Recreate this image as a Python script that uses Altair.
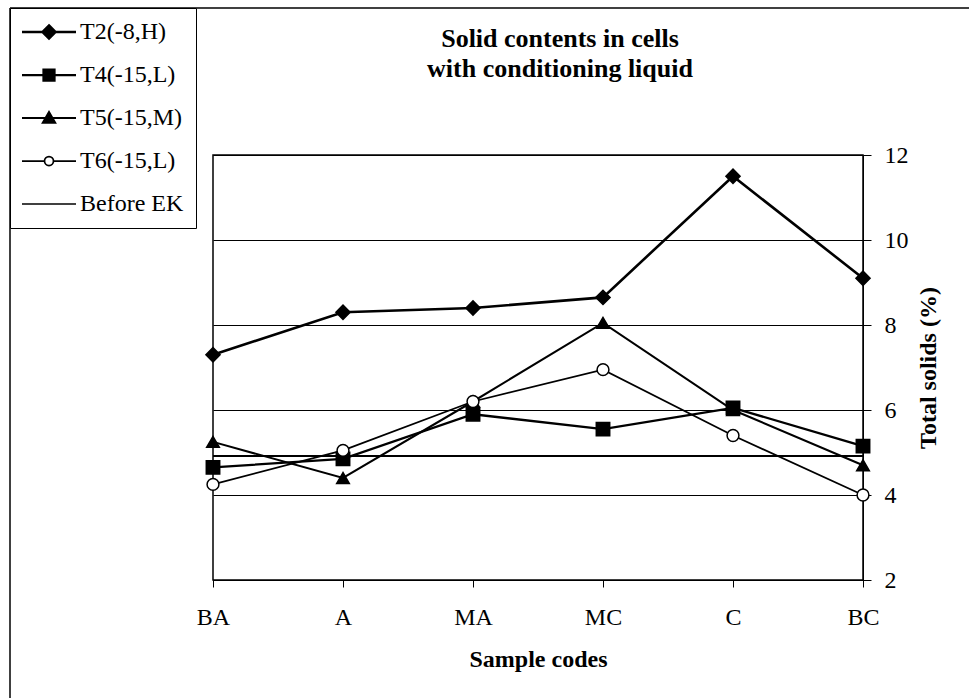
import altair as alt
import pandas as pd

# Sample positions along the cell and measured total solids (%)
categories = ["BA", "A", "MA", "MC", "C", "BC"]
series_names = ["T2(-8,H)", "T4(-15,L)", "T5(-15,M)", "T6(-15,L)"]
t2_values = [7.3, 8.3, 8.4, 8.65, 11.5, 9.1]
t4_values = [4.65, 4.85, 5.9, 5.55, 6.05, 5.15]
t5_values = [5.25, 4.4, 6.2, 8.05, 6.0, 4.7]
t6_values = [4.25, 5.05, 6.2, 6.95, 5.4, 4.0]
before_ek = 4.92
legend_names = series_names + ["Before EK"]
title_lines = "Solid contents in cells\nwith conditioning liquid"

FONT = "Liberation Serif"
FS = 24

rows = []
for name, vals in zip(series_names, [t2_values, t4_values, t5_values, t6_values]):
    for cat, v in zip(categories, vals):
        rows.append({"series": name, "category": cat, "value": v})
df = pd.DataFrame(rows)

x_enc = alt.X(
    "category:N",
    sort=categories,
    scale=alt.Scale(type="point", padding=0, domain=categories),
    axis=alt.Axis(
        title="Sample codes", labelAngle=0, grid=False, tickSize=7,
        tickColor="black", domainColor="black", labelPadding=18,
        titlePadding=18, labelFont=FONT, labelFontSize=FS, titleFont=FONT,
        titleFontSize=FS, titleFontWeight="bold", labelColor="black",
        titleColor="black",
    ),
)
y_enc = alt.Y(
    "value:Q",
    scale=alt.Scale(domain=[2, 12], nice=False, zero=False),
    axis=alt.Axis(
        orient="right", values=[2, 4, 6, 8, 10, 12], grid=True,
        gridColor="black", gridWidth=1, gridOpacity=1, tickSize=8,
        tickColor="black", domainColor="black", labelPadding=13,
        title="Total solids (%)", titleAngle=270, titlePadding=32,
        labelFont=FONT, labelFontSize=FS, titleFont=FONT, titleFontSize=FS,
        titleFontWeight="bold", labelColor="black", titleColor="black",
    ),
)

base = alt.Chart(df)

lines = base.mark_line(color="black").encode(
    x=x_enc,
    y=y_enc,
    detail="series:N",
    strokeWidth=alt.StrokeWidth(
        "series:N",
        scale=alt.Scale(domain=series_names, range=[2.6, 1.8, 1.4, 1.8]),
        legend=None,
    ),
)

points = base.mark_point(filled=True, stroke="black", strokeWidth=1.5, opacity=1).encode(
    x=x_enc,
    y=y_enc,
    shape=alt.Shape(
        "series:N",
        scale=alt.Scale(domain=series_names,
                        range=["diamond", "square", "triangle-up", "circle"]),
        legend=None,
    ),
    fill=alt.Fill(
        "series:N",
        scale=alt.Scale(domain=series_names,
                        range=["black", "black", "black", "white"]),
        legend=None,
    ),
    size=alt.Size(
        "series:N",
        scale=alt.Scale(domain=series_names, range=[200, 140, 150, 110]),
        legend=None,
    ),
)

before_rule = alt.Chart(pd.DataFrame({"value": [before_ek]})).mark_rule(
    color="black", strokeWidth=2
).encode(y=alt.Y("value:Q"))

# Legend symbols: a line segment with the series marker on it
legend_paths = [
    "M-2.7,0L2.7,0M0,-0.65L0.65,0L0,0.65L-0.65,0Z",
    "M-2.7,0L2.7,0M-0.55,-0.55L0.55,-0.55L0.55,0.55L-0.55,0.55Z",
    "M-2.7,0L2.7,0M0,-0.6L0.62,0.48L-0.62,0.48Z",
    "M-2.7,0L-0.45,0M0.45,0L2.7,0M0.45,0A0.45,0.45 0 1 1 -0.45,0A0.45,0.45 0 1 1 0.45,0Z",
    "M-2.7,0L2.7,0",
]
legend_props = alt.Legend(
    title=None, orient="none", legendX=-203, legendY=-147,
    strokeColor="black", fillColor="white", padding=12,
    symbolSize=400, symbolOpacity=1, symbolOffset=15, labelOffset=19,
    labelFont=FONT, labelFontSize=FS, labelColor="black",
    rowPadding=19, labelLimit=300,
)
legend_layer = alt.Chart(pd.DataFrame({"entry": legend_names})).mark_point(
    filled=True, opacity=0
).encode(
    shape=alt.Shape("entry:N", scale=alt.Scale(domain=legend_names, range=legend_paths),
                    legend=legend_props),
    fill=alt.Fill("entry:N",
                  scale=alt.Scale(domain=legend_names,
                                  range=["black", "black", "black", "white", "black"]),
                  legend=legend_props),
    stroke=alt.Stroke("entry:N",
                      scale=alt.Scale(domain=legend_names, range=["black"] * 5),
                      legend=legend_props),
    strokeWidth=alt.StrokeWidth("entry:N",
                                scale=alt.Scale(domain=legend_names,
                                                range=[2.5, 1.5, 1.5, 1.5, 1.8]),
                                legend=legend_props),
)

# Chart heading drawn as a two-line text above the plot
heading = alt.Chart(pd.DataFrame({"t": [title_lines]})).mark_text(
    font=FONT, fontSize=26, fontWeight="bold", align="center",
    baseline="middle", lineBreak="\n", lineHeight=30, color="black"
).encode(text="t:N", x=alt.value(347), y=alt.value(-116))

# Outer frame lines (top and left edges)
frame_df = pd.DataFrame({"k": [0]})
frame_left = alt.Chart(frame_df).mark_rule(color="black", strokeWidth=1.5).encode(
    x=alt.value(-203), y=alt.value(-147), y2=alt.value(600)
)
frame_top = alt.Chart(frame_df).mark_rule(color="black", strokeWidth=1.5).encode(
    x=alt.value(-203), x2=alt.value(800), y=alt.value(-147)
)

chart = alt.layer(
    frame_left, frame_top, heading, lines, before_rule, points, legend_layer
).resolve_scale(
    shape="independent", fill="independent", size="independent",
    stroke="independent", strokeWidth="independent"
).properties(
    width=650,
    height=425,
    autosize=alt.AutoSizeParams(type="none"),
    padding={"left": 213, "top": 155, "right": 106, "bottom": 118},
).configure(
    background="white", font=FONT
).configure_view(
    stroke="black", strokeWidth=1.5
)

chart.save("out.html", embed_options={"renderer": "svg", "actions": False})
